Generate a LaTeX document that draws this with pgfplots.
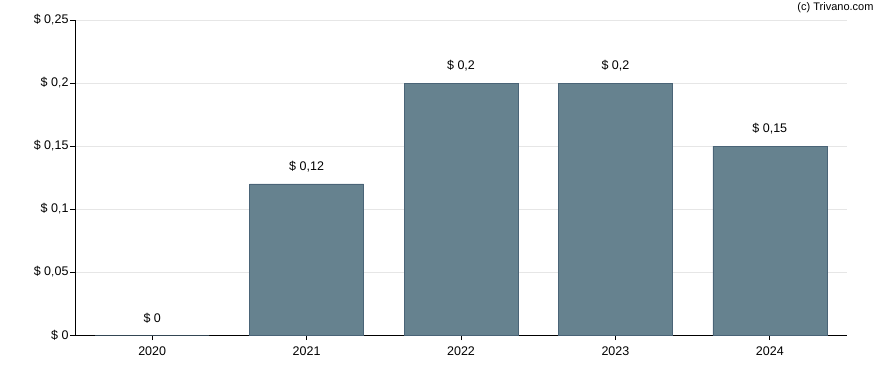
\documentclass[border=0pt]{standalone}
\usepackage{pgfplots}
\pgfplotsset{compat=1.18}
\usepackage{fontspec}
\setmainfont{Liberation Sans}
\definecolor{barfill}{HTML}{66828F}
\definecolor{baredge}{HTML}{4A6477}
\definecolor{gridc}{HTML}{E6E6E6}
\begin{document}
\begin{tikzpicture}
\begin{axis}[
  at={(75pt,35pt)}, anchor=south west,
  scale only axis, width=772pt, height=315pt,
  xmin=-0.5, xmax=4.5, ymin=0, ymax=0.25,
  axis x line*=bottom, axis y line*=left,
  axis line style={black, line width=0.9pt},
  xtick={0,1,2,3,4}, xticklabels={2020,2021,2022,2023,2024},
  ytick={0,0.05,0.1,0.15,0.2,0.25},
  yticklabels={\$ 0,\$ 0\textsf{,}05,\$ 0\textsf{,}1,\$ 0\textsf{,}15,\$ 0\textsf{,}2,\$ 0\textsf{,}25},
  tick style={black, line width=0.9pt},
  major tick length=5pt,
  tick align=outside,
  ymajorgrids, grid style={gridc, line width=0.8pt},
  ticklabel style={font=\fontsize{12.5}{14}\selectfont},
  xticklabel style={yshift=-3pt},
  yticklabel style={xshift=2pt},
  ybar, bar width=114pt,
  nodes near coords,
  point meta=explicit symbolic,
  every node near coord/.append style={font=\fontsize{12.5}{14}\selectfont, yshift=8pt},
  clip=false,
]
\addplot[fill=barfill, draw=baredge, line width=0.6pt] coordinates {
  (0,0) [\$ 0]
  (1,0.12) [\$ 0,12]
  (2,0.2) [\$ 0,2]
  (3,0.2) [\$ 0,2]
  (4,0.15) [\$ 0,15]
};
\end{axis}
\node[anchor=east, font=\fontsize{11}{13}\selectfont] at (877pt,362pt) {(c) Trivano.com};
\pgfresetboundingbox
\path[use as bounding box] (0,0) rectangle (888pt,370pt);
\end{tikzpicture}
\end{document}
